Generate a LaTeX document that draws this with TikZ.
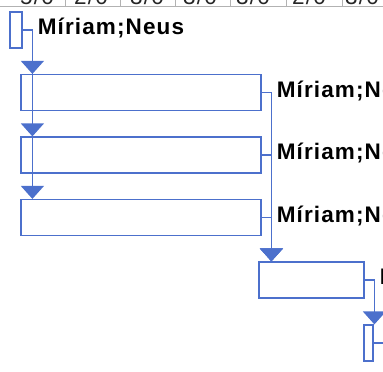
\documentclass[tikz,border=0pt]{standalone}
\usepackage{fontspec}
\setmainfont{Liberation Sans}
\usetikzlibrary{arrows.meta}
\definecolor{ganttblue}{RGB}{76,112,204}

\begin{document}
\begin{tikzpicture}[x=1pt,y=-1pt,
        task/.style={draw=ganttblue,line width=1.2pt,fill=white,inner sep=0pt,minimum height=36pt},
        link/.style={draw=ganttblue,line width=1.3pt,-{Triangle[width=23pt,length=13pt]}},
        res/.style={anchor=base west,inner sep=0pt,font=\fontsize{22.5}{22.5}\selectfont\bfseries\addfontfeature{LetterSpace=5}},
        hdr/.style={anchor=base,inner sep=0pt,text=black!85,font=\fontsize{22.5}{22.5}\selectfont\addfontfeature{LetterSpace=5}}]
        \useasboundingbox (0,0) rectangle (383,372);
        \clip (0,0) rectangle (383,372);

        % timescale row, cut at the top
        \draw[gray!60,line width=0.8pt] (0,6.5) -- (383,6.5);
        \foreach \x in {65,120,175,230,286,342}
        \draw[gray!60,line width=0.8pt] (\x,0) -- (\x,6.5);
        \foreach \x/\t in {37/{5/0},91/{2/0},147/{3/0},200/{3/0},253/{3/0},309/{2/0},362/{3/0}}
        \node[hdr] (h\x) at (\x,5) {\t};

        % tasks
        \node[task,minimum width=12pt] (m1) at (16,30) {};
        \foreach \i/\y in {1/92.5,2/155,3/217.5}
        \node[task,minimum width=240pt] (bar\i) at (141,\y) {};
        \node[task,minimum width=105pt] (bar4) at (311.5,280) {};
        \node[task,minimum width=9pt] (m2) at (368.5,343) {};

        % links
        \foreach \i in {1,2,3}
        \draw[link] (m1.east) -| ([xshift=12pt]bar\i.north west);
        \foreach \i in {1,2,3}
        \draw[link] (bar\i.east) -| ([xshift=13pt]bar4.north west);
        \draw[link] (bar4.east) -| ([xshift=11pt]m2.north west);
        \coordinate (next) at (395,343);
        \draw[ganttblue,line width=1.3pt] (m2.east) -- (next);

        % resources
        \foreach \t in {m1,bar1,bar2,bar3,bar4}
        \node[res] (r\t) at ([xshift=15pt,yshift=-4.5pt]\t.east) {Míriam;Neus};
\end{tikzpicture}
\end{document}
